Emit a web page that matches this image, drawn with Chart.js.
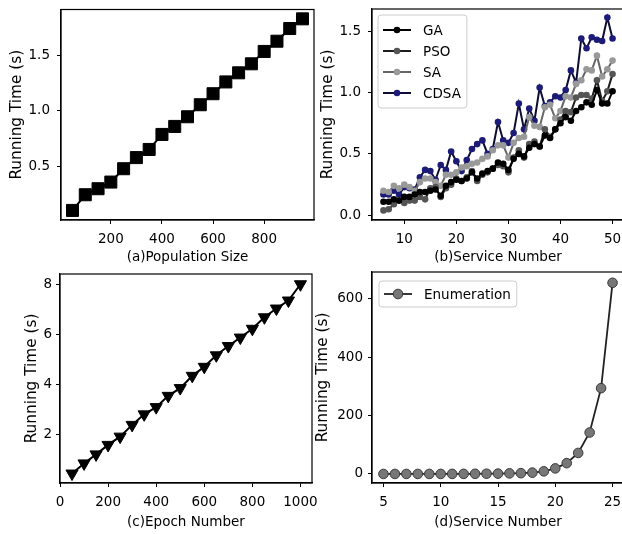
<!DOCTYPE html>
<html lang="en">
<head>
  <meta charset="UTF-8">
  <title>Running Time</title>
  <script src="https://cdn.jsdelivr.net/npm/chart.js"></script>
  <style>
    html, body { margin: 0; padding: 0; background: #fff; overflow: hidden; }
    body { width: 622px; height: 534px; position: relative; }
    canvas { position: absolute; }
  </style>
</head>
<body>
  <canvas id="chartA" width="330" height="266" style="left:0;top:0"></canvas>
  <canvas id="chartB" width="330" height="266" style="left:311px;top:0"></canvas>
  <canvas id="chartC" width="330" height="268" style="left:0;top:266px"></canvas>
  <canvas id="chartD" width="330" height="268" style="left:311px;top:266px"></canvas>

  <script>
    // (a) population size
    const popSize = [50, 100, 150, 200, 250, 300, 350, 400, 450, 500, 550, 600, 650, 700, 750, 800, 850, 900, 950];
    const popTime = [0.105, 0.246, 0.30, 0.36, 0.48, 0.58, 0.653, 0.788, 0.86, 0.947, 1.055, 1.154, 1.26, 1.342, 1.423, 1.534, 1.626, 1.74, 1.827];
    const popXTicks = [200, 400, 600, 800];
    const popYTicks = [0.5, 1.0, 1.5];

    // (b) service number, four algorithms
    const svcNum = [];
    for (let n = 6; n <= 50; n++) svcNum.push(n);
    const gaTime = [0.11, 0.11, 0.13, 0.12, 0.15, 0.15, 0.17, 0.19, 0.19, 0.20, 0.21, 0.16, 0.24, 0.27, 0.29,
      0.28, 0.30, 0.35, 0.30, 0.34, 0.36, 0.38, 0.43, 0.42, 0.37, 0.46, 0.50, 0.48, 0.55, 0.58,
      0.56, 0.65, 0.63, 0.70, 0.75, 0.80, 0.77, 0.85, 0.88, 0.92, 0.90, 1.02, 0.91, 0.91, 1.01];
    const psoTime = [0.04, 0.05, 0.09, 0.12, 0.10, 0.12, 0.12, 0.15, 0.13, 0.22, 0.23, 0.15, 0.22, 0.25, 0.30,
      0.28, 0.31, 0.36, 0.28, 0.33, 0.35, 0.38, 0.41, 0.40, 0.35, 0.47, 0.53, 0.47, 0.58, 0.60,
      0.56, 0.70, 0.64, 0.70, 0.78, 0.85, 0.84, 0.96, 0.98, 0.98, 0.95, 1.10, 0.93, 1.01, 1.15];
    const saTime = [0.20, 0.19, 0.24, 0.22, 0.25, 0.23, 0.20, 0.27, 0.30, 0.30, 0.27, 0.24, 0.33, 0.33, 0.35,
      0.39, 0.40, 0.42, 0.43, 0.46, 0.48, 0.53, 0.57, 0.57, 0.47, 0.59, 0.63, 0.64, 0.80, 0.73,
      0.72, 0.88, 0.90, 0.79, 0.85, 0.97, 0.96, 1.07, 1.10, 1.19, 1.18, 1.30, 1.13, 1.19, 1.26];
    const cdsaTime = [0.17, 0.17, 0.20, 0.17, 0.23, 0.22, 0.21, 0.31, 0.37, 0.36, 0.29, 0.41, 0.37, 0.52, 0.44,
      0.36, 0.45, 0.54, 0.58, 0.61, 0.50, 0.54, 0.76, 0.61, 0.59, 0.67, 0.91, 0.70, 0.87, 0.77,
      1.04, 0.89, 0.92, 0.97, 0.96, 1.02, 1.18, 1.08, 1.44, 1.36, 1.45, 1.43, 1.42, 1.61, 1.44];
    const svcXTicks = [10, 20, 30, 40, 50];
    const svcYTicks = [0.0, 0.5, 1.0, 1.5];

    // (c) epoch number
    const epochNum = [50, 100, 150, 200, 250, 300, 350, 400, 450, 500, 550, 600, 650, 700, 750, 800, 850, 900, 950, 1000];
    const epochTime = [0.455, 0.86, 1.22, 1.60, 1.93, 2.40, 2.82, 3.11, 3.56, 3.87, 4.36, 4.72, 5.18, 5.55, 5.89, 6.24, 6.70, 7.05, 7.37, 8.02];
    const epochXTicks = [0, 200, 400, 600, 800, 1000];
    const epochYTicks = [2, 4, 6, 8];

    // (d) enumeration
    const enumNum = [5, 6, 7, 8, 9, 10, 11, 12, 13, 14, 15, 16, 17, 18, 19, 20, 21, 22, 23, 24, 25];
    const enumTime = [0.01, 0.02, 0.03, 0.05, 0.08, 0.12, 0.2, 0.3, 0.5, 0.8, 1.2, 2.0, 2.8, 4.5, 9, 19, 37, 72, 142, 294, 655];
    const enumXTicks = [5, 10, 15, 20, 25];
    const enumYTicks = [0, 200, 400, 600];

    const tickFont = { family: 'DejaVu Sans', size: 13.5 };
    const yTitleFont = { family: 'DejaVu Sans', size: 15.3 };
    Chart.defaults.font = tickFont;
    Chart.defaults.color = '#000';

    // matplotlib-like box: top and right spines
    const frame = {
      id: 'frame',
      afterDraw(chart) {
        const { ctx, chartArea: a } = chart;
        ctx.save();
        ctx.strokeStyle = '#000';
        ctx.lineWidth = 1.2;
        ctx.strokeRect(a.left, a.top, a.right - a.left, a.bottom - a.top);
        ctx.restore();
      }
    };

    // legend inside the axes, line + marker sample
    const boxLegend = {
      id: 'boxLegend',
      afterDraw(chart, args, opts) {
        if (!opts.show) return;
        const { ctx, chartArea: a } = chart;
        const sets = chart.data.datasets;
        ctx.save();
        ctx.font = '13.5px "DejaVu Sans"';
        const textW = Math.max(...sets.map(d => ctx.measureText(d.label).width));
        const x0 = a.left + opts.dx, y0 = a.top + opts.dy;
        const w = 45 + textW + 6;
        const h = opts.first * 2 + opts.step * (sets.length - 1);
        ctx.beginPath();
        ctx.roundRect(x0, y0, w, h, 3);
        ctx.fillStyle = 'rgba(255,255,255,0.8)';
        ctx.fill();
        ctx.strokeStyle = '#cccccc';
        ctx.lineWidth = 1;
        ctx.stroke();
        sets.forEach((d, i) => {
          const y = y0 + opts.first + i * opts.step;
          ctx.beginPath();
          ctx.moveTo(x0 + 5, y);
          ctx.lineTo(x0 + 33, y);
          ctx.strokeStyle = d.borderColor;
          ctx.lineWidth = d.borderWidth;
          ctx.stroke();
          ctx.fillStyle = d.pointBackgroundColor;
          ctx.strokeStyle = d.pointBorderColor;
          ctx.lineWidth = d.pointBorderWidth;
          Chart.helpers.drawPoint(ctx, {
            pointStyle: d.pointStyle, radius: d.pointRadius, rotation: 0, borderWidth: d.pointBorderWidth
          }, x0 + 19, y);
          ctx.fillStyle = '#000';
          ctx.textBaseline = 'middle';
          ctx.textAlign = 'left';
          ctx.fillText(d.label, x0 + 45, y + 1);
        });
        ctx.restore();
      }
    };

    function axis(o) {
      return {
        type: 'linear',
        min: o.min,
        max: o.max,
        afterFit: s => {
          if (o.w) s.width = o.w;
          if (o.h) s.height = o.h;
          s.paddingTop = 0; s.paddingBottom = 0; s.paddingLeft = 0; s.paddingRight = 0;
        },
        afterBuildTicks: s => { s.ticks = o.ticks.map(v => ({ value: v })); },
        grid: { display: true, drawOnChartArea: false, drawTicks: true, tickLength: 4, color: '#000', lineWidth: 1 },
        border: { display: true, color: '#000', width: 1.2 },
        ticks: { font: tickFont, color: '#000', padding: o.pad, autoSkip: false, maxRotation: 0, callback: o.fmt },
        title: { display: true, text: o.title, font: o.tfont || tickFont, color: '#000', padding: o.tpad }
      };
    }

    function series(xs, ys, o) {
      return {
        label: o.label || '',
        data: xs.map((x, i) => ({ x: x, y: ys[i] })),
        borderColor: o.line,
        borderWidth: o.lw,
        pointStyle: o.style || 'circle',
        pointRotation: o.rot || 0,
        pointRadius: o.r,
        pointHoverRadius: o.r,
        pointBackgroundColor: o.fill,
        pointBorderColor: o.edge || o.fill,
        pointBorderWidth: o.ew || 0,
        tension: 0,
        clip: false
      };
    }

    function panel(id, datasets, xAxis, yAxis, pad, legendOpts) {
      return new Chart(document.getElementById(id), {
        type: 'line',
        data: { datasets: datasets },
        options: {
          responsive: false,
          animation: false,
          devicePixelRatio: 1,
          layout: { padding: pad },
          scales: { x: xAxis, y: yAxis },
          plugins: {
            legend: { display: false },
            tooltip: { enabled: false },
            boxLegend: legendOpts || { show: false }
          }
        },
        plugins: [frame, boxLegend]
      });
    }

    const one = v => v.toFixed(1);
    const int = v => String(v);

    panel('chartA',
      [series(popSize, popTime, { line: '#000', lw: 2, style: 'rect', r: 8.5, fill: '#000', edge: '#000', ew: 1 })],
      axis({ min: 5, max: 995, h: 46, ticks: popXTicks, fmt: int, pad: 7, title: '(a)Population Size', tpad: { top: 0, bottom: 0 } }),
      axis({ min: 0.019, max: 1.911, w: 61, ticks: popYTicks, fmt: one, pad: 7, title: 'Running Time (s)', tfont: yTitleFont, tpad: { top: 7.5, bottom: 0 } }),
      { top: 9, right: 16, left: 0, bottom: 0 });

    panel('chartB',
      [
        series(svcNum, gaTime, { label: 'GA', line: '#000', lw: 2, r: 3.3, fill: '#000' }),
        series(svcNum, psoTime, { label: 'PSO', line: '#1e1e1e', lw: 2, r: 3.3, fill: '#555' }),
        series(svcNum, saTime, { label: 'SA', line: '#666', lw: 2, r: 3.3, fill: '#999' }),
        series(svcNum, cdsaTime, { label: 'CDSA', line: '#0d0d33', lw: 2, r: 3.3, fill: '#1c1c78' })
      ],
      axis({ min: 3.8, max: 52.2, h: 46, ticks: svcXTicks, fmt: int, pad: 7, title: '(b)Service Number', tpad: { top: 0, bottom: 0 } }),
      axis({ min: -0.038, max: 1.68, w: 61, ticks: svcYTicks, fmt: one, pad: 7, title: 'Running Time (s)', tfont: yTitleFont, tpad: { top: 7.5, bottom: 0 } }),
      { top: 9, right: 17, left: 0, bottom: 0 },
      { show: true, dx: 6, dy: 6, first: 15, step: 21 });

    panel('chartC',
      [series(epochNum, epochTime, { line: '#000', lw: 2, style: 'triangle', rot: 180, r: 7, fill: '#000', edge: '#000', ew: 1 })],
      axis({ min: 0, max: 1048, h: 51, ticks: epochXTicks, fmt: int, pad: 7, title: '(c)Epoch Number', tpad: { top: 0, bottom: 3 } }),
      axis({ min: 0.077, max: 8.43, w: 60, ticks: epochYTicks, fmt: int, pad: 4, title: 'Running Time (s)', tfont: yTitleFont, tpad: { top: 23, bottom: 0 } }),
      { top: 6, right: 18, left: 0, bottom: 0 });

    panel('chartD',
      [series(enumNum, enumTime, { label: 'Enumeration', line: '#222', lw: 1.8, r: 4.8, fill: '#777', edge: '#3a3a3a', ew: 1 })],
      axis({ min: 4, max: 26, h: 51, ticks: enumXTicks, fmt: int, pad: 7, title: '(d)Service Number', tpad: { top: 0, bottom: 3 } }),
      axis({ min: -31, max: 692, w: 61, ticks: enumYTicks, fmt: int, pad: 5, title: 'Running Time (s)', tfont: yTitleFont, tpad: { top: 2.5, bottom: 0 } }),
      { top: 6, right: 17, left: 0, bottom: 0 },
      { show: true, dx: 7, dy: 9, first: 13, step: 21 });
  </script>
</body>
</html>
